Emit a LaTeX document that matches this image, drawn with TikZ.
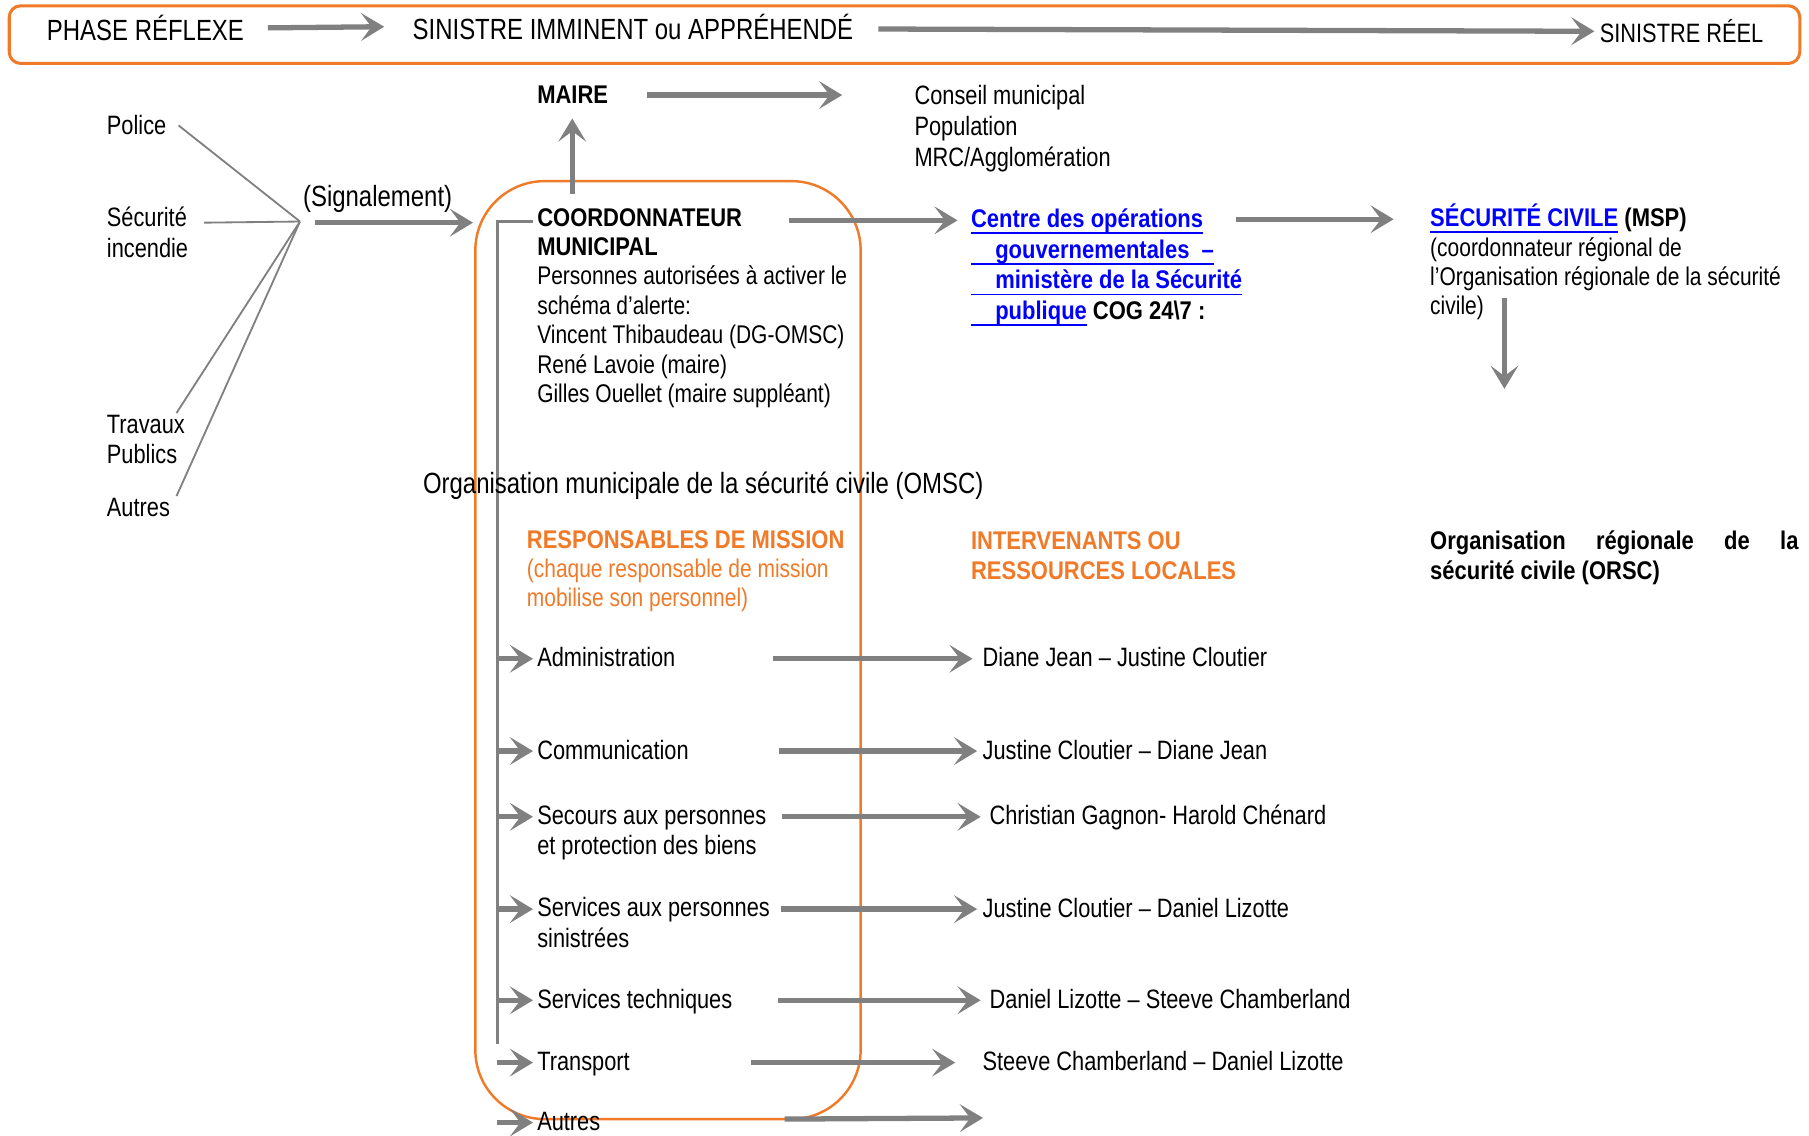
\documentclass[tikz,border=0pt]{standalone}
\usepackage{fontspec}
\setmainfont{Liberation Sans}[FakeStretch=0.82, BoldFeatures={FakeStretch=0.86}]
\usetikzlibrary{arrows.meta,calc}

\definecolor{orangeomsc}{RGB}{240,122,40}
\definecolor{grisfleche}{RGB}{128,128,128}
\definecolor{bleulien}{RGB}{0,0,255}

\newcommand\textecourant{\fontsize{6.3}{7.25}\selectfont}
\newcommand\textemoyen{\fontsize{6.55}{7.55}\selectfont}
\newcommand\textegrand{\fontsize{7.2}{8.3}\selectfont}
\newsavebox\boitelien
\newcommand\lienbleu[1]{\sbox\boitelien{\color{bleulien}#1}%
  {\color{bleulien}\rlap{\rule[-1.6pt]{\wd\boitelien}{0.45pt}}}\usebox\boitelien}

\tikzset{
  texte/.style={anchor=base west, inner sep=0pt, align=left, font=\textecourant},
  liste/.style={texte, font=\textemoyen},
  fleche/.style={draw=grisfleche, line width=1.3pt,
    -{Stealth[length=0.2cm, width=0.24cm, inset=0.09cm]}},
  trait/.style={draw=grisfleche, line width=0.45pt},
  bus/.style={draw=grisfleche, line width=0.85pt},
}

\begin{document}
\begin{tikzpicture}[x=0.01cm, y=-0.01cm]
\useasboundingbox (0,0) rectangle (1568,984);

% bandeau des phases
\draw[orangeomsc, line width=0.75pt, rounded corners=0.1cm] (8,5) rectangle (1560,55);
\node[texte, font=\textegrand] (reflexe) at (40,35) {PHASE RÉFLEXE};
\node[texte, font=\textegrand] (imminent) at (357,34) {SINISTRE IMMINENT ou APPRÉHENDÉ};
\node[texte, font=\textemoyen] (reel) at (1386,37) {SINISTRE RÉEL};
\draw[fleche] ($(reflexe.east)+(20,0)$) -- ($(imminent.west)+(-24,0)$);
\draw[fleche] ($(imminent.east)+(21,2)$) -- ($(reel.west)+(-4,0)$);

% cadre OMSC
\draw[orangeomsc, line width=0.6pt, rounded corners=0.6cm] (412,157) rectangle (746,970);

% signalement (base = derniere ligne)
\node[liste] (police) at (92,117) {Police};
\node[liste] (securite) at (92,223) {Sécurité\\incendie};
\node[liste] (travaux) at (92,402) {Travaux\\Publics};
\node[liste] (autres) at (92,448) {Autres};
\coordinate (hub) at (260,192);
\coordinate (sec) at (177,193);
\coordinate (trav) at (153,358);
\coordinate (aut) at (153,430);
\draw[trait] ($(police.east)+(10,0)$) -- (hub);
\draw[trait] (sec) -- (hub);
\draw[trait] (trav) -- (hub);
\draw[trait] (aut) -- (hub);
\node[texte, font=\textegrand] (signal) at (262,179) {(Signalement)};
\coordinate (sig) at (273,193);
\coordinate (bord) at (410,193);
\draw[fleche] (sig) -- (bord);

% maire et coordonnateur
\node[texte] (maire) at (465,90) {\textbf{MAIRE}};
\node[liste] (conseil) at (792,144) {Conseil municipal\\Population\\MRC/Agglomération};
\draw[fleche] ($(maire.east)+(33,0)$) -- ($(conseil.west |- maire.east)+(-62,0)$);

\node[texte] (coord) at (465,349) {\textbf{COORDONNATEUR}\\\textbf{MUNICIPAL}\\Personnes autorisées à activer le\\schéma d’alerte:\\Vincent Thibaudeau (DG-OMSC)\\René Lavoie (maire)\\Gilles Ouellet (maire suppléant)};
\coordinate (haut) at (496,168);
\draw[fleche] (haut) -- ($(haut |- maire.south)+(0,12)$);
\coordinate (busdepart) at (462,192);
\coordinate (busbas) at (431,905);
\draw[bus] (busdepart) -| (busbas);

% niveau gouvernemental
\node[texte, font=\fontsize{6.3}{7.55}\selectfont\bfseries] (centre) at (841,277) {\lienbleu{Centre des opérations}\\\lienbleu{\hspace*{0.21cm}gouvernementales~~–}\\\lienbleu{\hspace*{0.21cm}ministère de la Sécurité}\\\lienbleu{\hspace*{0.21cm}publique} COG 24\textbackslash7 :};
\coordinate (c1) at (684,191);
\draw[fleche] (c1) -- ($(centre.west |- c1)+(-11,0)$);
\node[texte] (secu) at (1239,273) {\textbf{\lienbleu{SÉCURITÉ CIVILE} (MSP)}\\(coordonnateur régional de\\l’Organisation régionale de la sécurité\\civile)};
\coordinate (c2) at (1071,190);
\draw[fleche] (c2) -- ($(secu.west |- c2)+(-31,0)$);
\coordinate (c3) at (1304,258);
\draw[fleche] (c3) -- ++(0,79);

% titres
\node[texte, font=\textegrand] (omsc) at (366,428) {Organisation municipale de la sécurité civile (OMSC)};
\node[texte, text=orangeomsc] (resp) at (456,526) {\textbf{RESPONSABLES DE MISSION}\\(chaque responsable de mission\\mobilise son personnel)};
\node[texte, text=orangeomsc, font=\textecourant\bfseries] (interv) at (841,502) {INTERVENANTS OU\\RESSOURCES LOCALES};
\node[texte, font=\textecourant\bfseries] (orsc) at (1239,502) {\makebox[3.19cm][s]{Organisation régionale de la}\\sécurité civile (ORSC)};

% missions et ressources
\foreach \i/\y/\yb/\mission/\xd/\xr/\ecart/\res in {
  1/571/578/Administration/670/851/0.08/{Diane Jean – Justine Cloutier},
  2/651/658/Communication/675/851/0.04/{Justine Cloutier – Diane Jean},
  3/708/741/{Secours aux personnes\\et protection des biens}/678/857/0.07/{Christian Gagnon- Harold Chénard},
  4/788/821/{Services aux personnes\\sinistrées}/677/851/0.04/{Justine Cloutier – Daniel Lizotte},
  5/867/874/Services techniques/674/857/0.07/{Daniel Lizotte – Steeve Chamberland},
  6/921/928/Transport/651/851/0.23/{Steeve Chamberland – Daniel Lizotte}}{
  \node[liste] (m\i) at (465,\yb) {\mission};
  \node[liste] (r\i) at (\xr,\y+7) {\res};
  \coordinate (g\i) at (431,\y);
  \coordinate (d\i) at (\xd,\y);
  \draw[fleche, shorten >=0.03cm] (g\i) -- (g\i -| m\i.west);
  \draw[fleche, shorten >=\ecart cm] (d\i) -- (d\i -| r\i.west);
}
\node[liste] (m7) at (465,980) {Autres};
\coordinate (g7) at (431,973);
\coordinate (d7) at (680,970);
\coordinate (f7) at (852,969);
\draw[fleche, shorten >=0.03cm] (g7) -- (g7 -| m7.west);
\draw[fleche] (d7) -- (f7);

\end{tikzpicture}
\end{document}
